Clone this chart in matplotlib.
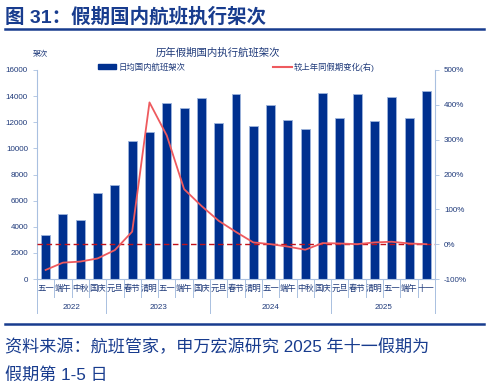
import numpy as np
import matplotlib
matplotlib.use("Agg")
import matplotlib.pyplot as plt
from matplotlib.patches import Patch
from matplotlib.lines import Line2D

plt.rcParams['font.family'] = ['Liberation Sans', 'Noto Sans CJK SC', 'DejaVu Sans']
plt.rcParams['axes.unicode_minus'] = False

# holiday labels and years
holidays = ['五一', '端午', '中秋', '国庆',
            '元旦', '春节', '清明', '五一', '端午', '国庆',
            '元旦', '春节', '清明', '五一', '端午', '中秋', '国庆',
            '元旦', '春节', '清明', '五一', '端午', '十一']
years = ['2022', '2023', '2024', '2025']
year_counts = [4, 6, 7, 6]

# daily domestic flights (架次)
flights = [3350, 5010, 4530, 6550,
           7160, 10540, 11250, 13450, 13070, 13890,
           11970, 14190, 11690, 13350, 12150, 11460, 14270,
           12310, 14140, 12100, 13940, 12360, 14370]
# change vs same holiday last year (%)
yoy = [-74, -53, -50, -41,
       -17, 36, 407, 312, 158, 110,
       67, 35, 5, 0, -7, -16, 3,
       2, 0, 5, 7, 2, 0]

navy = '#00308F'
text_c = '#1F3A7A'
spine_c = '#A9C0E0'
line_c = '#EE5A5E'
title_c = '#183C8E'

fig = plt.figure(figsize=(4.91, 3.88), dpi=100)
ax = fig.add_axes([37 / 491, 1 - 279 / 388, (435 - 37) / 491, 209 / 388])

x = np.arange(len(holidays))
ax.bar(x, flights, width=0.52, color=navy, edgecolor='#9DB4DC', linewidth=0.6, zorder=2)
ax.set_xlim(-0.5, len(holidays) - 0.5)
ax.set_ylim(0, 16000)
ax.set_yticks(np.arange(0, 16001, 2000))
ax.set_xticks([])
ax.tick_params(axis='y', labelsize=5.8, colors=spine_c, labelcolor=text_c, length=3, width=0.6)
for s in ['top', 'right']:
    ax.spines[s].set_visible(False)
ax.spines['left'].set_color(spine_c)
ax.spines['bottom'].set_color(spine_c)
ax.spines['left'].set_linewidth(0.8)
ax.spines['bottom'].set_linewidth(0.8)

ax2 = ax.twinx()
ax2.plot(x, yoy, color=line_c, linewidth=1.3, zorder=3)
ax2.axhline(0, color='#C0121A', linestyle=(0, (4, 2.5)), linewidth=1.0, zorder=2)
ax2.set_ylim(-100, 500)
ax2.set_yticks(np.arange(-100, 501, 100))
ax2.set_yticklabels([f'{v}%' for v in range(-100, 501, 100)])
ax2.tick_params(axis='y', labelsize=5.8, colors=spine_c, labelcolor=text_c, length=3, width=0.6)
for s in ['top', 'left', 'bottom']:
    ax2.spines[s].set_visible(False)
ax2.spines['right'].set_color(spine_c)
ax2.spines['right'].set_linewidth(0.8)

# category labels and separators
trans = ax.get_xaxis_transform()
for i, h in enumerate(holidays):
    ax.text(i, -0.048, h, transform=trans, ha='center', va='center',
            fontsize=6, color=text_c, clip_on=False)
for i in range(len(holidays) + 1):
    ax.plot([i - 0.5, i - 0.5], [0, -0.085], transform=trans, color=spine_c,
            linewidth=0.7, clip_on=False)
bounds = np.concatenate([[0], np.cumsum(year_counts)]) - 0.5
for b in bounds:
    ax.plot([b, b], [0, -0.165], transform=trans, color=spine_c,
            linewidth=0.7, clip_on=False)
for k, yr in enumerate(years):
    ax.text((bounds[k] + bounds[k + 1]) / 2, -0.135, yr, transform=trans,
            ha='center', va='center', fontsize=5.8, color=text_c, clip_on=False)

# titles
fig.text(5 / 491, 1 - 17 / 388, '图 31：假期国内航班执行架次', fontsize=14, fontweight='bold',
         color=title_c, ha='left', va='center')
fig.add_artist(Line2D([5 / 491, 484 / 491], [1 - 29 / 388, 1 - 29 / 388], color=title_c, linewidth=1.8))
fig.text(218 / 491, 1 - 53 / 388, '历年假期国内执行航班架次', fontsize=7.5, color=text_c,
         ha='center', va='center')
fig.text(40 / 491, 1 - 54 / 388, '架次', fontsize=5.5, color=text_c, ha='center', va='center')

handles = [Patch(facecolor=navy, edgecolor=navy), Line2D([0], [0], color=line_c, linewidth=1.5)]
fig.legend(handles, ['日均国内航班架次', '较上年同假期变化(右)'], ncol=2, frameon=False,
           loc='center left', bbox_to_anchor=(98 / 491, 1 - 67 / 388), fontsize=6,
           labelcolor=text_c, handlelength=2.2, handleheight=0.5, handletextpad=0.3,
           columnspacing=10.5, borderpad=0, borderaxespad=0)

# source
fig.add_artist(Line2D([5 / 491, 484 / 491], [1 - 324 / 388, 1 - 324 / 388], color=title_c, linewidth=1.8))
fig.text(5 / 491, 1 - 347 / 388, '资料来源：航班管家，申万宏源研究 2025 年十一假期为', fontsize=12.3,
         color=title_c, ha='left', va='center')
fig.text(5 / 491, 1 - 375 / 388, '假期第 1-5 日', fontsize=12.3,
         color=title_c, ha='left', va='center')

fig.savefig('out.png', dpi=100)
